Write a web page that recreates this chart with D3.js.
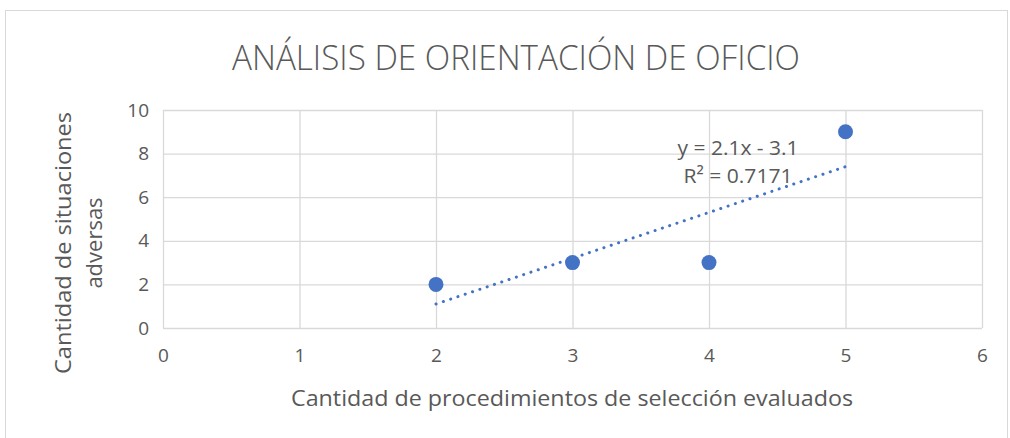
<!DOCTYPE html>
<html>
<head>
<meta charset="utf-8">
<script src="https://cdn.jsdelivr.net/npm/d3@7"></script>
<style>
  body { margin: 0; background: #fff; }
  text { font-family: "Open Sans", "DejaVu Sans", sans-serif; fill: #595959; }
</style>
</head>
<body>
<div id="chart"></div>
<script>
  var W = 1010, H = 438;

  // data
  var xValues = [2, 3, 4, 5];
  var yValues = [2, 3, 3, 9];
  var xTicks = [0, 1, 2, 3, 4, 5, 6];
  var yTicks = [0, 2, 4, 6, 8, 10];
  var trendSlope = 2.1;
  var trendIntercept = -3.1;
  var trendRange = [2, 5];
  var trendLabels = ["y = 2.1x - 3.1", "R² = 0.7171"];

  var svg = d3.select("#chart").append("svg")
      .attr("width", W)
      .attr("height", H);

  // chart frame
  svg.append("rect")
      .attr("x", 5.5).attr("y", 10.5)
      .attr("width", 1002).attr("height", 440)
      .attr("fill", "#fff")
      .attr("stroke", "#d9d9d9");

  var x = d3.scaleLinear().domain([0, 6]).range([163, 982]);
  var y = d3.scaleLinear().domain([0, 10]).range([328, 110]);

  // grid
  svg.append("g").selectAll("line").data(yTicks).enter().append("line")
      .attr("x1", x(0)).attr("x2", x(6))
      .attr("y1", function (d) { return y(d) + 0.5; })
      .attr("y2", function (d) { return y(d) + 0.5; })
      .attr("stroke", "#d9d9d9").attr("stroke-width", 1.3);
  svg.append("g").selectAll("line").data(xTicks).enter().append("line")
      .attr("y1", y(0)).attr("y2", y(10))
      .attr("x1", function (d) { return x(d) + 0.5; })
      .attr("x2", function (d) { return x(d) + 0.5; })
      .attr("stroke", "#d9d9d9").attr("stroke-width", 1.3);

  // axes via d3 axis, restyled
  var xAxis = svg.append("g")
      .attr("transform", "translate(0," + (y(0) + 16) + ")")
      .call(d3.axisBottom(x).tickValues(xTicks).tickFormat(d3.format("d"))
        .tickSize(0).tickPadding(4));
  var yAxis = svg.append("g")
      .attr("transform", "translate(" + (x(0) - 14) + ",0)")
      .call(d3.axisLeft(y).tickValues(yTicks).tickFormat(d3.format("d"))
        .tickSize(0).tickPadding(0));
  [xAxis, yAxis].forEach(function (g) {
    g.select(".domain").remove();
    g.selectAll("text")
        .style("font-family", "\"Open Sans\", sans-serif")
        .style("font-size", "19px")
        .attr("fill", "#595959");
  });

  // trendline
  svg.append("line")
      .attr("x1", x(trendRange[0]))
      .attr("y1", y(trendSlope * trendRange[0] + trendIntercept))
      .attr("x2", x(trendRange[1]))
      .attr("y2", y(trendSlope * trendRange[1] + trendIntercept))
      .attr("stroke", "#4472c4")
      .attr("stroke-width", 3)
      .attr("stroke-linecap", "round")
      .attr("stroke-dasharray", "0.1 7.6");

  // points
  svg.append("g").selectAll("circle").data(xValues).enter().append("circle")
      .attr("cx", function (d) { return x(d); })
      .attr("cy", function (d, i) { return y(yValues[i]); })
      .attr("r", 7.5)
      .attr("fill", "#4472c4");

  // trend labels
  svg.append("text").attr("x", 738).attr("y", 155)
      .attr("text-anchor", "middle").style("font-size", "20px")
      .attr("textLength", 121).attr("lengthAdjust", "spacingAndGlyphs")
      .text(trendLabels[0]);
  svg.append("text").attr("x", 738).attr("y", 183)
      .attr("text-anchor", "middle").style("font-size", "20px")
      .attr("textLength", 109).attr("lengthAdjust", "spacingAndGlyphs")
      .text(trendLabels[1]);

  // title
  svg.append("text").attr("x", 516).attr("y", 70)
      .attr("text-anchor", "middle")
      .style("font-size", "34px").style("font-weight", 300)
      .attr("textLength", 568).attr("lengthAdjust", "spacingAndGlyphs")
      .text("ANÁLISIS DE ORIENTACIÓN DE OFICIO");

  // x axis title
  svg.append("text").attr("x", 572).attr("y", 406)
      .attr("text-anchor", "middle").style("font-size", "21px")
      .attr("textLength", 562).attr("lengthAdjust", "spacingAndGlyphs")
      .text("Cantidad de procedimientos de selección evaluados");

  // y axis title (two lines)
  var yt = svg.append("text")
      .attr("transform", "translate(0,243) rotate(-90)")
      .attr("text-anchor", "middle").style("font-size", "22px");
  yt.append("tspan").attr("x", 0).attr("y", 71)
      .attr("textLength", 262).attr("lengthAdjust", "spacingAndGlyphs")
      .text("Cantidad de situaciones");
  yt.append("tspan").attr("x", 0).attr("y", 102).text("adversas");
</script>
</body>
</html>
